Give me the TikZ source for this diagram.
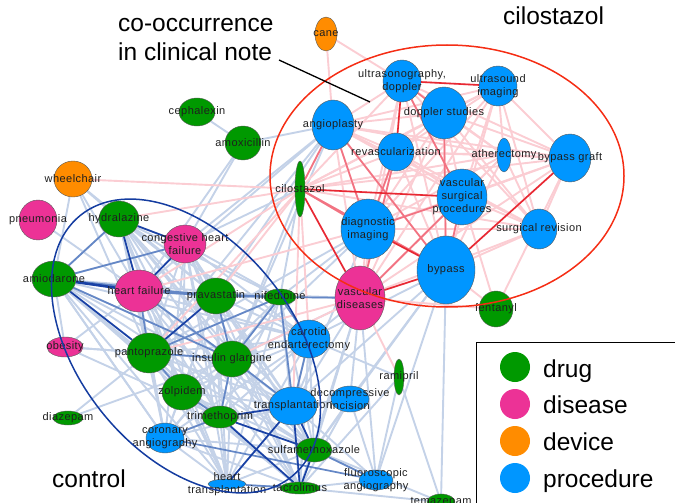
\documentclass[tikz,border=0pt]{standalone}
\usepackage{fontspec}
\setmainfont{Liberation Sans}
\newfontfamily\lblf[LetterSpace=4.0]{Liberation Sans}
\newfontfamily\bigf{Liberation Sans}
\usetikzlibrary{shapes.geometric,backgrounds}
\definecolor{cdrug}{RGB}{0,153,0}
\definecolor{cdis}{RGB}{236,50,150}
\definecolor{cdev}{RGB}{255,140,0}
\definecolor{cproc}{RGB}{0,150,255}
\definecolor{redclu}{RGB}{245,45,20}
\definecolor{bluclu}{RGB}{20,60,160}
\definecolor{rs}{RGB}{232,40,50}
\definecolor{rm}{RGB}{242,115,130}
\definecolor{rl}{RGB}{251,205,211}
\definecolor{bs}{RGB}{25,65,165}
\definecolor{bm}{RGB}{100,135,198}
\definecolor{bl}{RGB}{196,210,232}
\begin{document}
\begin{tikzpicture}[x=1pt,y=-1pt,
  nd/.style={ellipse, draw=black!65, line width=0.4pt, inner sep=0pt},
  drug/.style={nd, fill=cdrug},
  dis/.style={nd, fill=cdis},
  dev/.style={nd, fill=cdev},
  proc/.style={nd, fill=cproc},
  lbl/.style={font=\lblf\fontsize{11}{13}\selectfont, align=center, text=black!88, inner sep=0pt},
  big/.style={font=\bigf\fontsize{24.5}{29}\selectfont, inner sep=0pt, text=black},
  lr/.style={rl, line width=1.9pt},
  mr/.style={rm, line width=1.7pt},
  sr/.style={rs, line width=1.6pt},
  lb/.style={bl, line width=1.9pt},
  mb/.style={bm, line width=1.7pt},
  sb/.style={bs, line width=1.7pt},
  lgd/.style={circle, minimum size=30pt, inner sep=0pt}]
\useasboundingbox (0,0) rectangle (675,503);
\clip (0,0) rectangle (675,503);

% ---------- nodes ----------
\node[dev, minimum width=22pt, minimum height=34pt, label={[lbl]center:cane}] (cane) at (326,34) {};
\node[proc, minimum width=38pt, minimum height=42pt, label={[lbl]center:ultrasonography,\\doppler}] (usd) at (402,81) {};
\node[proc, minimum width=38pt, minimum height=40pt, label={[lbl]center:ultrasound\\imaging}] (usi) at (498,86) {};
\node[proc, minimum width=46pt, minimum height=52pt, label={[lbl]center:doppler studies}] (dps) at (444,113) {};
\node[proc, minimum width=42pt, minimum height=50pt, label={[lbl]center:angioplasty}] (agp) at (333,125) {};
\node[proc, minimum width=36pt, minimum height=38pt, label={[lbl]center:revascularization}] (rev) at (396,152) {};
\node[proc, minimum width=14pt, minimum height=34pt, label={[lbl]center:atherectomy}] (ath) at (504,155) {};
\node[proc, minimum width=42pt, minimum height=48pt, label={[lbl]center:bypass graft}] (bpg) at (570,158) {};
\node[drug, minimum width=10pt, minimum height=56pt, label={[lbl]center:cilostazol}] (cil) at (300,189) {};
\node[proc, minimum width=50pt, minimum height=56pt, label={[lbl]center:vascular\\surgical\\procedures}] (vsp) at (462,197) {};
\node[proc, minimum width=54pt, minimum height=60pt, label={[lbl]center:diagnostic\\imaging}] (dim) at (368,229) {};
\node[proc, minimum width=36pt, minimum height=40pt, label={[lbl]center:surgical revision}] (srv) at (539,229) {};
\node[proc, minimum width=58pt, minimum height=68pt, label={[lbl]center:bypass}] (byp) at (446,270) {};
\node[dis, minimum width=50pt, minimum height=64pt, label={[lbl]center:vascular\\diseases}] (vdz) at (360,298) {};
\node[drug, minimum width=34pt, minimum height=36pt, label={[lbl]center:fentanyl}] (fen) at (496,309) {};
\node[drug, minimum width=36pt, minimum height=28pt, label={[lbl]center:cephalexin}] (cep) at (197,112) {};
\node[drug, minimum width=36pt, minimum height=34pt, label={[lbl]center:amoxicillin}] (amx) at (243,143) {};
\node[dev, minimum width=38pt, minimum height=36pt, label={[lbl]center:wheelchair}] (whc) at (73,179) {};
\node[dis, minimum width=38pt, minimum height=40pt, label={[lbl]center:pneumonia}] (pne) at (38,220) {};
\node[drug, minimum width=40pt, minimum height=36pt, label={[lbl]center:hydralazine}] (hyd) at (119,219) {};
\node[dis, minimum width=42pt, minimum height=38pt, label={[lbl]center:congestive heart\\failure}] (chf) at (185,244) {};
\node[drug, minimum width=44pt, minimum height=36pt, label={[lbl]center:amiodarone}] (ami) at (54,279) {};
\node[dis, minimum width=48pt, minimum height=42pt, label={[lbl]center:heart failure}] (hf) at (139,291) {};
\node[drug, minimum width=40pt, minimum height=36pt, label={[lbl]center:pravastatin}] (pra) at (216,296) {};
\node[drug, minimum width=32pt, minimum height=16pt, label={[lbl]center:nifedipine}] (nif) at (280,297) {};
\node[dis, minimum width=36pt, minimum height=20pt, label={[lbl]center:obesity}] (obe) at (65,347) {};
\node[drug, minimum width=44pt, minimum height=40pt, label={[lbl]center:pantoprazole}] (pan) at (149,353) {};
\node[drug, minimum width=40pt, minimum height=36pt, label={[lbl]center:insulin glargine}] (ins) at (232,359) {};
\node[proc, minimum width=42pt, minimum height=38pt, label={[lbl]center:carotid\\endarterectomy}] (cae) at (309,339) {};
\node[drug, minimum width=40pt, minimum height=36pt, label={[lbl]center:zolpidem}] (zol) at (182,392) {};
\node[drug, minimum width=10pt, minimum height=36pt, label={[lbl]center:ramipril}] (ram) at (399,377) {};
\node[drug, minimum width=30pt, minimum height=14pt, label={[lbl]center:diazepam}] (dia) at (68,418) {};
\node[drug, minimum width=36pt, minimum height=22pt, label={[lbl]center:trimethoprim}] (tri) at (220,417) {};
\node[proc, minimum width=48pt, minimum height=38pt, label={[lbl]center:transplantation}] (tra) at (293,406) {};
\node[proc, minimum width=38pt, minimum height=26pt, label={[lbl]center:decompressive\\incision}] (dci) at (350,399) {};
\node[proc, minimum width=38pt, minimum height=30pt, label={[lbl]center:coronary\\angiography}] (cor) at (165,438) {};
\node[drug, minimum width=36pt, minimum height=24pt, label={[lbl]center:sulfamethoxazole}] (sul) at (314,450) {};
\node[proc, minimum width=38pt, minimum height=10pt, label={[lbl]center:heart\\transplantation}] (htr) at (227,484) {};
\node[drug, minimum width=40pt, minimum height=12pt, label={[lbl]center:tacrolimus}] (tac) at (300,488) {};
\node[proc, minimum width=34pt, minimum height=20pt, label={[lbl]center:fluoroscopic\\angiography}] (flu) at (376,480) {};
\node[drug, minimum width=28pt, minimum height=16pt, label={[lbl]center:temazepam}] (tem) at (441,502) {};

% ---------- edges ----------
\def\redlist{usd,usi,dps,agp,rev,ath,bpg,cil,vsp,dim,srv,byp,vdz}
\def\bluelist{hyd,chf,ami,hf,pra,nif,pan,ins,zol,tri,cor,tra,sul,htr,tac,cae}
\begin{scope}[on background layer]
  % light blue among control
  \foreach \a [count=\i] in \bluelist {
    \foreach \b [count=\j] in \bluelist {
      \ifnum\j>\i \draw[lb] (\a) -- (\b); \fi
    }
  }
  % light blue cross edges
  \foreach \a/\b in {agp/amx,agp/hf,agp/pra,agp/pan,agp/ins,agp/chf,cil/nif,cil/ins,dim/nif,dim/pan,dim/tra,dim/ins,
    vdz/ins,vdz/tra,vdz/sul,vdz/tac,vdz/dci,vdz/cae,vdz/pra,vdz/hf,byp/cae,byp/tra,byp/dci,byp/flu,byp/tem,byp/sul,
    ram/tem,ram/flu,ram/tac,ram/cae,dci/flu,dci/tac,dci/tra,dci/sul,tem/tac,tem/sul,whc/hyd,whc/ami,whc/hf,whc/pra,whc/pan,
    pne/hf,cep/amx,amx/hf,amx/chf,obe/pan,obe/ami,obe/hf,obe/ins,obe/tri,dia/pan,dia/ins,cor/ami,
    flu/tra,flu/sul,flu/tac,cae/tac,vdz/flu,cil/chf}
    \draw[lb] (\a) -- (\b);
  % light pink in cilostazol cluster
  \foreach \a [count=\i] in \redlist {
    \foreach \b [count=\j] in \redlist {
      \ifnum\j>\i \draw[lr] (\a) -- (\b); \fi
    }
  }
  \foreach \a/\b in {cil/whc,cil/hyd,cil/hf,cil/pan,cil/cae,cil/tra,cil/pra,cane/agp,cane/usd,vdz/ram,vdz/pan,vdz/ins,
    fen/byp,fen/vdz,fen/bpg,fen/vsp,dim/hf}
    \draw[lr] (\a) -- (\b);
  % medium blue
  \foreach \a/\b in {ami/chf,hf/pra,nif/vdz,nif/ins,nif/pan,ami/ins,hf/ins,pan/ins,zol/tri,cor/flu,htr/tac,pan/hf,
    hyd/ami,ami/pra,pra/ins,nif/tra,nif/cae,ins/tra,zol/pan,cor/tri,ins/tri,hf/nif,pra/nif,tra/cae,sul/flu}
    \draw[mb] (\a) -- (\b);
  % medium red
  \foreach \a/\b in {agp/dim,agp/byp,rev/dim,dim/vsp,vdz/vsp,usd/vsp,cil/agp,cil/dim,dps/byp,vdz/rev,vsp/byp,usd/dps,cil/byp}
    \draw[mr] (\a) -- (\b);
  % strong blue
  \draw[sb, line width=2.6pt] (ami) -- (hf);
  \foreach \a/\b in {ami/pan,hyd/hf,hyd/chf,chf/hf,pra/pan,tri/tra,tri/sul,tra/sul,tra/tac,tra/htr,sul/tac,tri/tac}
    \draw[sb] (\a) -- (\b);
  % strong red
  \foreach \a/\b in {cil/vsp,cil/vdz,bpg/byp,usd/usi,usd/rev,dim/byp,vdz/byp}
    \draw[sr] (\a) -- (\b);
\end{scope}

% ---------- cluster outlines ----------
\node[ellipse, draw=redclu, line width=1.5pt, inner sep=0pt, minimum width=354pt, minimum height=262pt] (cilclu) at (447,176) {};
\node[ellipse, draw=bluclu, line width=1.5pt, inner sep=0pt, minimum width=336pt, minimum height=214pt, rotate=-51] (ctlclu) at (186,346) {};

% ---------- annotations ----------
\node[big, anchor=base west] (note1) at (118,32) {co-occurrence};
\node[big, anchor=base west] (note2) at (118,61) {in clinical note};
\coordinate (ps) at (279,60);
\coordinate (pe) at (370,102);
\draw[black, line width=1.3pt] (ps) -- (pe);
\node[big, anchor=base west] (tcil) at (503,25) {cilostazol};
\node[big, anchor=base west] (tctl) at (52,487) {control};

% ---------- legend ----------
\node[draw=black, fill=white, line width=1.3pt, anchor=north west, minimum width=230pt, minimum height=190pt, inner sep=0pt] (legend) at (476,342) {};
\node[lgd, fill=cdrug] (lg1) at (515,367) {};
\node[lgd, fill=cdis] (lg2) at (515,404) {};
\node[lgd, fill=cdev] (lg3) at (515,441) {};
\node[lgd, fill=cproc] (lg4) at (515,478) {};
\node[big, anchor=base west] (lt1) at (543,377) {drug};
\node[big, anchor=base west] (lt2) at (543,413) {disease};
\node[big, anchor=base west] (lt3) at (543,450) {device};
\node[big, anchor=base west] (lt4) at (543,487) {procedure};
\end{tikzpicture}
\end{document}
